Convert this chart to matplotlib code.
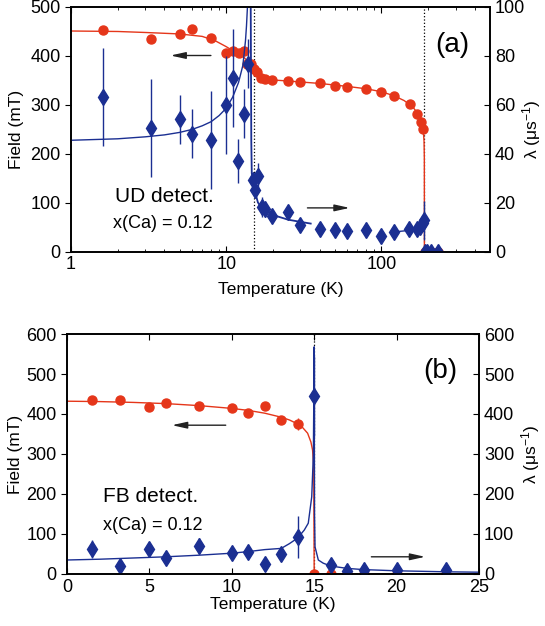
import numpy as np
import matplotlib
matplotlib.use("Agg")
import matplotlib.pyplot as plt

plt.rcParams['font.family'] = ['Liberation Sans', 'DejaVu Sans']
plt.rcParams['mathtext.fontset'] = 'custom'
plt.rcParams['mathtext.rm'] = 'Liberation Sans'
plt.rcParams['mathtext.it'] = 'Liberation Sans'

RED = '#e5361a'
BLUE = '#1b2f92'

# ---- panel (a): UD detector ----
a_field_T = [1.6, 3.3, 5.0, 6.0, 8.0, 10.0, 11.0, 12.1, 13.1, 13.7, 14.5, 15.2, 15.7,
             16.7, 17.8, 19.8, 24.9, 30, 40, 50, 60, 80, 100, 121, 152, 170, 180, 185,
             190, 197, 207, 232]
a_field = [452, 433, 444, 454, 435, 406, 410, 406, 409, 383, 382, 373, 366,
           355, 352, 351, 348, 345, 343, 338, 336, 332, 325, 317, 301, 281, 264, 249,
           0, 0, 0, 0]

a_lam_T = [1.6, 3.3, 5.0, 6.0, 8.0, 10.0, 11.0, 11.9, 13.1, 13.9, 14.9, 15.4, 15.9,
           16.9, 17.8, 19.8, 24.9, 29.8, 40, 50, 60, 80, 100, 120, 150, 170, 178, 184,
           187, 190, 197, 207, 232]
a_lam = [62.9, 50.4, 54.0, 48.1, 45.5, 60.0, 70.8, 37.0, 56.3, 76.6, 29.1, 25.0, 30.9,
         18.2, 17.2, 14.6, 16.2, 10.8, 9.0, 8.8, 8.5, 8.8, 6.4, 8.1, 9.0, 9.0, 10.1, 11.5,
         12.8, 0, 0, 0, 0]
a_lam_err = [20, 20, 10, 10, 20, 20, 20, 9, 10, 10, 3, 3, 5.4,
             4, 3, 2, 2, 2, 1.5, 1.5, 1.5, 1.5, 1.5, 1.5, 1.5, 1.5, 2, 2,
             8, 0, 0, 0, 0]

# fit curves
a_fitF_T = [1, 2, 3, 5, 7, 8.5, 10, 11, 12, 13, 13.6, 14.2, 15, 16, 17, 18, 20, 25, 30,
            40, 60, 80, 100, 120, 140, 160, 170, 180, 184, 186, 188, 188.8, 189, 250]
a_fitF = [450, 449, 447, 444, 439, 430, 418, 410, 403, 396, 390, 382, 370, 361, 356, 353,
          350, 348, 346, 343, 337, 332, 326, 318, 308, 294, 283, 266, 253, 245, 225, 190,
          0, 0]
a_fitL1_T = [1, 2, 3, 4, 5, 6, 7, 8, 9, 10, 11, 12, 12.8, 13.3, 13.5, 13.7, 14.0]
a_fitL1 = [45.4, 46.0, 46.8, 47.6, 48.6, 49.8, 51.3, 53.0, 55.5, 58.5, 63.0, 69.0, 76.0,
           86.0, 92.0, 100.0, 130.0]
a_fitL2_T = [14.3, 14.4, 14.5, 14.6, 15.0, 16.0, 17.0, 20.0, 25.0, 30.0, 35.0]
a_fitL2 = [130, 90, 45, 32, 26.4, 20.0, 17.5, 14.9, 13.0, 12.1, 11.4]
a_fitL3_T = [120, 140, 160, 170, 180, 185, 188]
a_fitL3 = [8.0, 8.4, 9.0, 9.5, 10.5, 11.8, 13.5]

# ---- panel (b): FB detector ----
b_field_T = [1.5, 3.2, 5, 6, 8, 10, 11, 12, 13, 14, 15, 16, 17, 18, 20, 23]
b_field = [435, 434, 417, 427, 419, 415, 402, 420, 386, 375, 0, 0, 0, 0, 0, 0]
b_field_err = [0, 0, 0, 0, 0, 0, 0, 0, 0, 15, 0, 0, 0, 0, 0, 0]

b_lam_T = [1.5, 3.2, 5, 6, 8, 10, 11, 12, 13, 14, 15, 16, 17, 18, 20, 23]
b_lam = [62.5, 21, 62.5, 41, 70, 53, 54, 24, 50, 92, 445, 22, 7, 10, 10, 10]
b_lam_err = [23, 8, 8, 8, 19, 8, 15, 8, 12, 52, 100, 8, 5, 5, 5, 5]

b_fitF_T = [0, 2, 4, 6, 8, 10, 11, 12, 13, 13.5, 14, 14.3, 14.6, 14.8, 14.9, 14.97, 15.0, 25]
b_fitF = [432, 431, 429, 426, 421, 414, 409, 402, 392, 385, 375, 366, 352, 330, 310, 270, 0, 0]
b_fitL_T = [0, 2, 4, 6, 8, 10, 11, 12, 13, 13.5, 14, 14.4, 14.64, 14.85, 14.95, 15.0,
            15.02, 15.05, 15.25, 15.55, 16, 17, 18, 20, 23, 25]
b_fitL = [35, 37, 40, 43, 47, 52, 56, 61, 64, 76, 90, 110, 127, 193, 300, 568,
          150, 68, 35, 27, 20, 14, 11, 8, 5.5, 4.5]

W, H = 545, 626
fig = plt.figure(figsize=(W / 100, H / 100), dpi=100)


def box(l, r, t, b):
    return [l / W, 1 - b / H, (r - l) / W, (b - t) / H]


def style(ax, axr):
    ax.tick_params(axis='x', which='both', direction='in', top=True, labelsize=13)
    ax.tick_params(axis='y', direction='out', labelsize=13, length=4)
    axr.tick_params(axis='y', direction='in', labelsize=13, length=4)
    ax.tick_params(axis='x', which='major', length=4)
    ax.tick_params(axis='x', which='minor', length=2.5)
    for a in (ax, axr):
        for s in a.spines.values():
            s.set_linewidth(1.2)


def ylabels(ax, axr, xl, xr):
    ax.set_ylabel('Field (mT)', fontsize=12.5, va='center')
    axr.set_ylabel('λ (μs$^{-1}$)', fontsize=12.5, rotation=90, va='center')
    ax.yaxis.set_label_coords(xl, 0.5)
    axr.yaxis.set_label_coords(xr, 0.5)


ARROW = dict(arrowstyle='-|>,head_length=0.9,head_width=0.2', color='#222222', lw=1)

# panel (a)
ax1 = fig.add_axes(box(71, 490, 6.5, 251.5))
ax1r = ax1.twinx()
ax1.set_xscale('log')
ax1.set_xlim(1, 500)
ax1.set_ylim(0, 500)
ax1r.set_ylim(0, 100)
ax1.set_yticks(range(0, 501, 100))
ax1r.set_yticks(range(0, 101, 20))
ax1.set_xticks([1, 10, 100])
ax1.set_xticklabels(['1', '10', '100'])
ax1.axvline(15, color='k', ls=':', lw=0.9)
ax1.axvline(189, color='k', ls=':', lw=0.9)
ax1.plot(a_fitF_T, a_fitF, color=RED, lw=1)
ax1.plot(a_field_T, a_field, 'o', color=RED, ms=6.5, mec=RED)
ax1r.plot(a_fitL1_T, a_fitL1, color=BLUE, lw=1)
ax1r.plot(a_fitL2_T, a_fitL2, color=BLUE, lw=1.3)
ax1r.plot(a_fitL3_T, a_fitL3, color=BLUE, lw=1)
ax1r.errorbar(a_lam_T, a_lam, yerr=a_lam_err, fmt='d', color=BLUE, ms=8,
              elinewidth=1, capsize=0)
ax1.set_xlabel('Temperature (K)', fontsize=12.5, labelpad=6)
ylabels(ax1, ax1r, -0.131, 1.100)
style(ax1, ax1r)
ax1.annotate('', xy=(4.2, 400), xytext=(8.3, 400), arrowprops=ARROW)
ax1.annotate('', xy=(65, 89), xytext=(32, 89), arrowprops=ARROW)

# panel (b)
ax2 = fig.add_axes(box(67, 479, 334, 574))
ax2r = ax2.twinx()
ax2.set_xlim(0, 25)
ax2.set_ylim(0, 600)
ax2r.set_ylim(0, 600)
ax2.set_yticks(range(0, 601, 100))
ax2r.set_yticks(range(0, 601, 100))
ax2.set_xticks(range(0, 26, 5))
ax2.axvline(15, color='k', ls=':', lw=0.9)
ax2.plot(b_fitF_T, b_fitF, color=RED, lw=1)
ax2.errorbar(b_field_T, b_field, yerr=b_field_err, fmt='o', color=RED, ms=6.5,
             elinewidth=1, capsize=0)
ax2r.plot(b_fitL_T, b_fitL, color=BLUE, lw=1)
ax2r.errorbar(b_lam_T, b_lam, yerr=b_lam_err, fmt='d', color=BLUE, ms=8,
              elinewidth=1, capsize=0)
ax2.set_xlabel('Temperature (K)', fontsize=12.5, labelpad=1)
ylabels(ax2, ax2r, -0.124, 1.124)
style(ax2, ax2r)
ax2.annotate('', xy=(6.2, 372), xytext=(9.8, 372), arrowprops=ARROW)
ax2.annotate('', xy=(21.9, 43), xytext=(18.3, 43), arrowprops=ARROW)

# annotations
fig.text(115 / W, 1 - 197 / H, 'UD detect.', fontsize=15, va='center', ha='left')
fig.text(113 / W, 1 - 223 / H, 'x(Ca) = 0.12', fontsize=13, va='center', ha='left')
fig.text(103 / W, 1 - 496 / H, 'FB detect.', fontsize=15, va='center', ha='left')
fig.text(103 / W, 1 - 525 / H, 'x(Ca) = 0.12', fontsize=13, va='center', ha='left')
fig.text(435 / W, 1 - 45 / H, '(a)', fontsize=20, va='center', ha='left')
fig.text(423 / W, 1 - 371 / H, '(b)', fontsize=20, va='center', ha='left')

fig.savefig('out.png', dpi=100)
